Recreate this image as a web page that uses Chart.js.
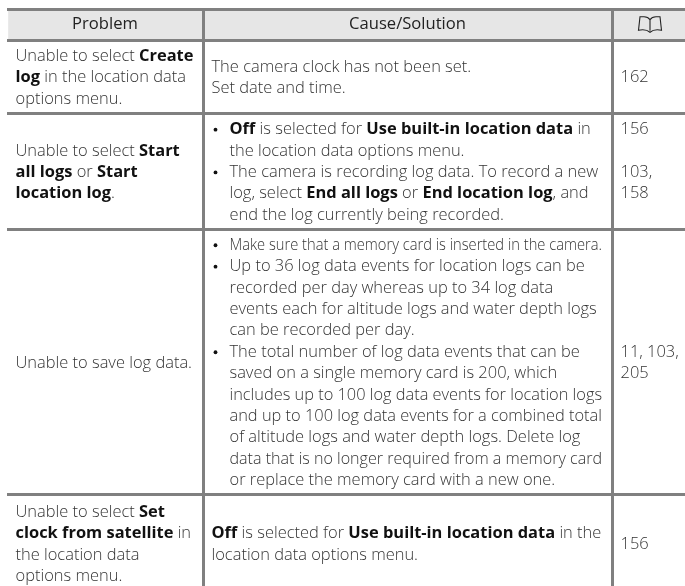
<!DOCTYPE html>
<html>
<head>
<meta charset="utf-8">
<title>Location data troubleshooting</title>
<script src="https://cdn.jsdelivr.net/npm/chart.js@4"></script>
<style>
	html, body { margin: 0; padding: 0; background: #fff; overflow: hidden; }
	canvas { display: block; }
</style>
</head>
<body>
<canvas id="myTable" width="685" height="586"></canvas>
<script>
// table rules, in table units (the header starts at 0)
// the last row runs past the bottom of the page
const colEdges = [0, 196, 605, 678];
const rowEdges = [0, 30.5, 103.5, 220, 484.5, 583];
const visibleHeight = 576.5;

const headers = ["Problem", "Cause/Solution", ""];

// *...* = bold
const problems = [
	["Unable to select *Create*", "*log* in the location data", "options menu."],
	["Unable to select *Start*", "*all logs* or *Start*", "*location log*."],
	["Unable to save log data."],
	["Unable to select *Set*", "*clock from satellite* in", "the location data", "options menu."]
];
const causes = [
	["The camera clock has not been set.", "Set date and time."],
	["• *Off* is selected for *Use built-in location data* in",
		"the location data options menu.",
		"• The camera is recording log data. To record a new",
		"log, select *End all logs* or *End location log*, and",
		"end the log currently being recorded."],
	["• Make sure that a memory card is inserted in the camera.",
		"• Up to 36 log data events for location logs can be",
		"recorded per day whereas up to 34 log data",
		"events each for altitude logs and water depth logs",
		"can be recorded per day.",
		"• The total number of log data events that can be",
		"saved on a single memory card is 200, which",
		"includes up to 100 log data events for location logs",
		"and up to 100 log data events for a combined total",
		"of altitude logs and water depth logs. Delete log",
		"data that is no longer required from a memory card",
		"or replace the memory card with a new one."],
	["*Off* is selected for *Use built-in location data* in the", "location data options menu."]
];
const pages = [
	["162"],
	["156", "", "103,", "158", ""],
	["11, 103,", "205"],
	["156"]
];
const bulleted = [false, true, true, false];

const lineHeight = 21.4;
const textShift = 1.2;
const fontFamily = "'Open Sans', 'Noto Sans', sans-serif";
const fontSize = 16.3;
const stretch = 1.01;
const cellPad = 8.5;
const bulletIndent = 18;

function lineWidth(ctx, parts) {
	var w = 0;
	parts.forEach(function(part, i) {
		ctx.font = (i % 2 == 1 ? "700 " : "300 ") + fontSize + "px " + fontFamily;
		w += ctx.measureText(part).width;
	});
	return w;
}

function drawLine(ctx, line, x, y, limit) {
	var parts = line.split("*");
	// long lines get squeezed to stay inside the cell
	var sx = Math.min(stretch, (limit - x) / lineWidth(ctx, parts));
	ctx.save();
	ctx.translate(x, y);
	ctx.scale(sx, 1);
	var pos = 0;
	parts.forEach(function(part, i) {
		var bold = i % 2 == 1;
		ctx.font = (bold ? "700 " : "300 ") + fontSize + "px " + fontFamily;
		ctx.fillStyle = bold ? "#111" : "#333";
		ctx.fillText(part, pos, 0);
		pos += ctx.measureText(part).width;
	});
	ctx.restore();
}

function drawBook(ctx, cx, cy) {
	ctx.save();
	ctx.strokeStyle = "#222";
	ctx.lineWidth = 1.1;
	ctx.beginPath();
	ctx.moveTo(cx, cy - 5);
	ctx.quadraticCurveTo(cx - 2, cy - 8, cx - 6, cy - 8);
	ctx.lineTo(cx - 10, cy - 8);
	ctx.lineTo(cx - 11.5, cy + 5.5);
	ctx.quadraticCurveTo(cx - 4, cy + 4, cx, cy + 7.5);
	ctx.quadraticCurveTo(cx + 4, cy + 4, cx + 11.5, cy + 5.5);
	ctx.lineTo(cx + 10, cy - 8);
	ctx.lineTo(cx + 6, cy - 8);
	ctx.quadraticCurveTo(cx + 2, cy - 8, cx, cy - 5);
	ctx.lineTo(cx, cy + 6);
	ctx.stroke();
	ctx.restore();
}

const tableText = {
	id: "tableText",
	afterDraw(chart) {
		const ctx = chart.ctx;
		const xs = chart.scales.x;
		const ys = chart.scales.y;
		ctx.save();
		ctx.textBaseline = "middle";

		// header row
		const headY = (ys.getPixelForValue(rowEdges[0]) + ys.getPixelForValue(rowEdges[1])) / 2;
		headers.forEach(function(h, c) {
			const cx = (xs.getPixelForValue(colEdges[c]) + xs.getPixelForValue(colEdges[c + 1])) / 2;
			if (h) {
				ctx.save();
				ctx.translate(cx, headY);
				ctx.scale(1.02, 1);
				ctx.textAlign = "center";
				ctx.font = "400 " + fontSize + "px " + fontFamily;
				ctx.fillStyle = "#222";
				ctx.fillText(h, 0, 0);
				ctx.restore();
			} else {
				drawBook(ctx, cx + 1.5, headY);
			}
		});
		ctx.textAlign = "left";

		// body rows
		problems.forEach(function(_, r) {
			const mid = (ys.getPixelForValue(rowEdges[r + 1]) + ys.getPixelForValue(rowEdges[r + 2])) / 2;
			[problems[r], causes[r], pages[r]].forEach(function(lines, c) {
				const left = xs.getPixelForValue(colEdges[c]) + cellPad;
				const limit = xs.getPixelForValue(colEdges[c + 1]) - 2;
				const top = mid - (lines.length - 1) * lineHeight / 2 + textShift;
				lines.forEach(function(line, i) {
					const y = top + i * lineHeight;
					var x = left;
					if (c == 1 && bulleted[r]) {
						if (line.startsWith("• ")) {
							ctx.fillStyle = "#111";
							ctx.beginPath();
							ctx.arc(left + 4, y, 1.9, 0, Math.PI * 2);
							ctx.fill();
							line = line.slice(2);
						}
						x = left + bulletIndent;
					}
					drawLine(ctx, line, x, y, c == 1 ? limit - 8 : limit);
				});
			});
		});
		ctx.restore();
	}
};

new Chart(document.getElementById("myTable"), {
	type: "bar",
	data: {
		datasets: [{
			data: [{ x: [colEdges[0], colEdges[3]], y: (rowEdges[0] + rowEdges[1]) / 2 }],
			backgroundColor: "#e6e6e6",
			barThickness: rowEdges[1] - rowEdges[0]
		}]
	},
	plugins: [tableText],
	options: {
		indexAxis: "y",
		responsive: false,
		animation: false,
		layout: { padding: { left: 7, top: 9.5, right: 0, bottom: 0 } },
		plugins: { legend: { display: false }, tooltip: { enabled: false } },
		scales: {
			x: {
				type: "linear",
				min: colEdges[0],
				max: colEdges[3],
				afterBuildTicks: function(axis) { axis.ticks = colEdges.map(v => ({ value: v })); },
				ticks: { display: false },
				border: { display: false },
				grid: {
					z: 1,
					drawTicks: false,
					lineWidth: 3,
					color: function(ctx) {
						return ctx.index == 1 || ctx.index == 2 ? "#808080" : "transparent";
					}
				}
			},
			y: {
				type: "linear",
				reverse: true,
				offset: false,
				min: rowEdges[0],
				max: visibleHeight,
				afterBuildTicks: function(axis) { axis.ticks = rowEdges.slice(0, 5).map(v => ({ value: v })); },
				ticks: { display: false },
				border: { display: false },
				grid: {
					z: 1,
					offset: false,
					drawTicks: false,
					lineWidth: 3,
					color: "#808080"
				}
			}
		}
	}
});
</script>
</body>
</html>
